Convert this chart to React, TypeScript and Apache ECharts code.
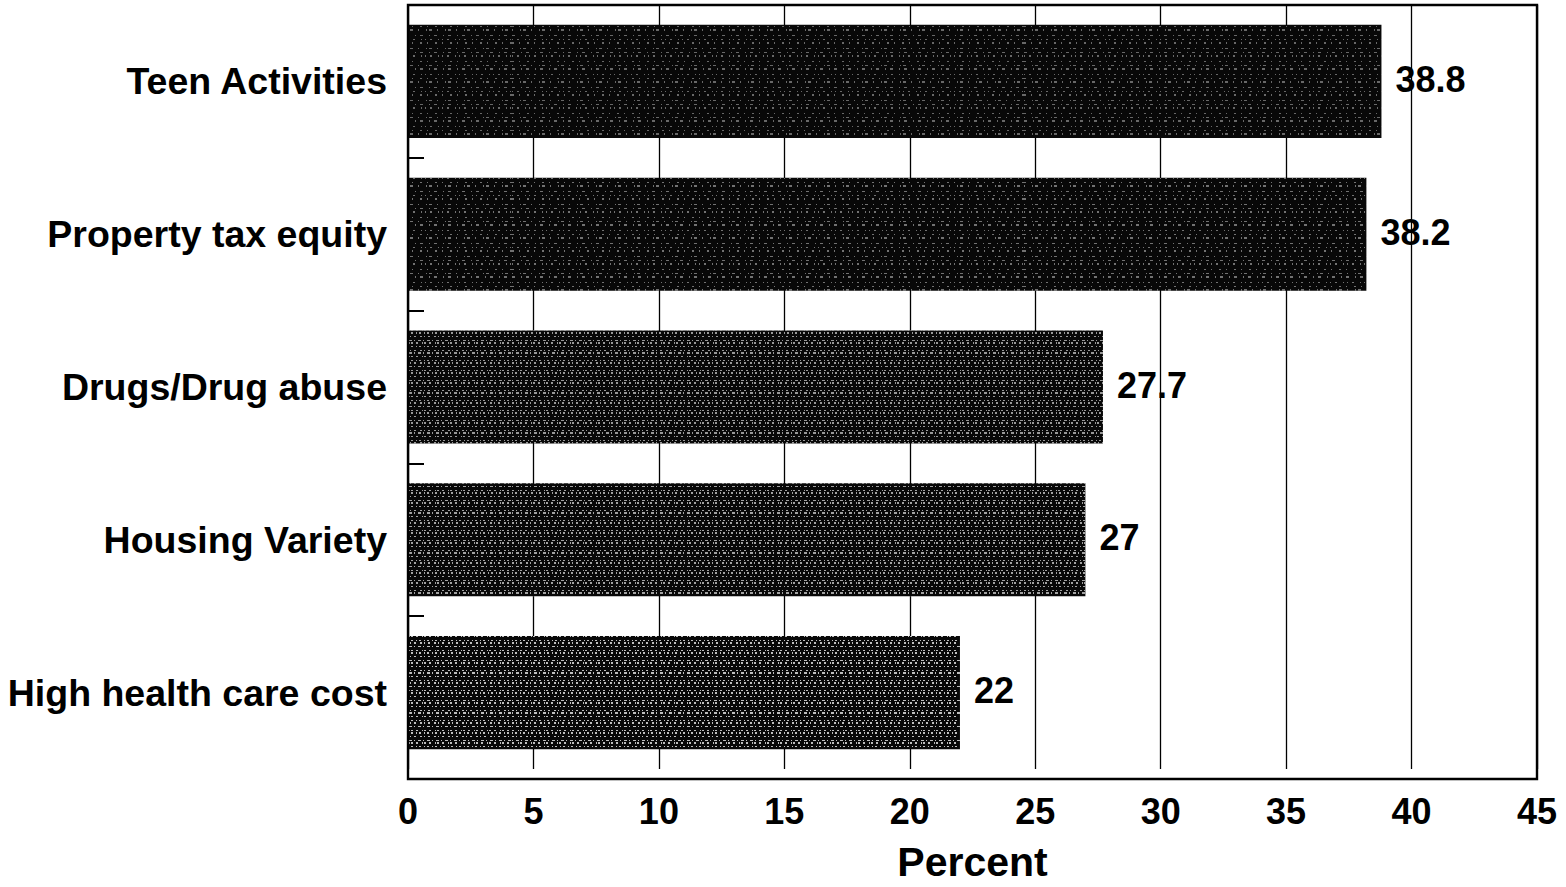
import React, { useEffect, useRef } from "react";
import * as echarts from "echarts";

const categories = [
  "Teen Activities",
  "Property tax equity",
  "Drugs/Drug abuse",
  "Housing Variety",
  "High health care cost",
];
const percentValues = [38.8, 38.2, 27.7, 27, 22];
const axisTicks = [0, 5, 10, 15, 20, 25, 30, 35, 40, 45];
// separator ticks between neighbouring categories
const separatorTicks = [1, 2, 3, 4];

// speckle strength per bar (the lower bars are grainier)
const speckleAlpha = [0.5, 0.55, 0.75, 0.8, 0.95];
const speckleDense = [false, false, true, true, true];

const FONT = "'Liberation Sans', Arial, Helvetica, sans-serif";

// plot frame, in page pixels
const FRAME = { left: 408, top: 5, right: 1537, bottom: 779 };

const sparseX = [
  [1, 4, 2, 6, 1, 3],
  [2, 5, 1, 7],
  [1, 7, 1, 2, 3, 5],
  [3, 6, 1, 4],
];
const denseX = [
  [2, 2, 1, 3, 2, 4],
  [1, 3, 3, 2],
  [2, 4, 1, 1, 2, 3],
  [1, 2, 2, 3],
];

export default function App() {
  const ref = useRef<HTMLDivElement>(null);

  useEffect(() => {
    if (!ref.current) return;
    const chart = echarts.init(ref.current, undefined, { renderer: "svg" });

    const data = percentValues.map((v, i) => ({
      value: v,
      itemStyle: {
        color: "#080808",
        decal: {
          symbol: "rect",
          symbolSize: 1,
          color: `rgba(200,200,200,${speckleAlpha[i]})`,
          dashArrayX: speckleDense[i] ? denseX : sparseX,
          dashArrayY: speckleDense[i] ? [1, 1, 2, 2, 1, 3] : [1, 2, 2, 4, 1, 3],
          rotation: 0,
        },
      },
    }));

    chart.setOption({
      animation: false,
      backgroundColor: "#ffffff",
      grid: {
        left: FRAME.left,
        right: 1566 - FRAME.right,
        top: FRAME.top,
        bottom: 887 - FRAME.bottom,
        show: false,
        containLabel: false,
      },
      graphic: [
        {
          type: "rect",
          shape: {
            x: FRAME.left,
            y: FRAME.top,
            width: FRAME.right - FRAME.left,
            height: FRAME.bottom - FRAME.top,
          },
          style: { fill: "none", stroke: "#000", lineWidth: 2.4 },
          z: 60,
          silent: true,
        },
      ],
      xAxis: {
        type: "value",
        min: 0,
        max: 45,
        interval: 5,
        name: "Percent",
        nameLocation: "middle",
        nameGap: 72,
        nameTextStyle: {
          fontFamily: FONT,
          fontWeight: "bold",
          fontSize: 41,
          color: "#000",
        },
        axisLine: { show: false },
        axisTick: { show: false },
        axisLabel: {
          fontFamily: FONT,
          fontWeight: "bold",
          fontSize: 36,
          color: "#000",
          margin: 24,
          formatter: (v: number) => (axisTicks.includes(v) ? String(v) : ""),
        },
        splitLine: { show: true, lineStyle: { color: "#000", width: 1.3 } },
      },
      yAxis: [
        {
          type: "category",
          data: categories,
          inverse: true,
          axisLine: { show: false },
          axisTick: { show: false },
          axisLabel: {
            fontFamily: FONT,
            fontWeight: "bold",
            fontSize: 37.5,
            color: "#000",
            margin: 21,
          },
          splitLine: { show: false },
        },
        {
          // band index scale, only used for the short separator ticks
          type: "value",
          position: "left",
          min: 0,
          max: categories.length,
          interval: 1,
          inverse: true,
          axisLine: { show: false },
          axisLabel: { show: false },
          splitLine: { show: false },
          axisTick: {
            show: true,
            inside: true,
            length: 16,
            customValues: separatorTicks,
            lineStyle: { color: "#000", width: 2 },
          },
        },
      ],
      series: [
        {
          type: "bar",
          yAxisIndex: 0,
          data,
          barWidth: "74%",
          z: 3,
          label: {
            show: true,
            position: "right",
            distance: 14,
            fontFamily: FONT,
            fontWeight: "bold",
            fontSize: 36,
            color: "#000",
            offset: [0, -2],
          },
        },
      ],
    });

    return () => chart.dispose();
  }, []);

  return (
    <div
      ref={ref}
      style={{ position: "fixed", left: 0, top: 0, width: 1566, height: 887 }}
    />
  );
}
